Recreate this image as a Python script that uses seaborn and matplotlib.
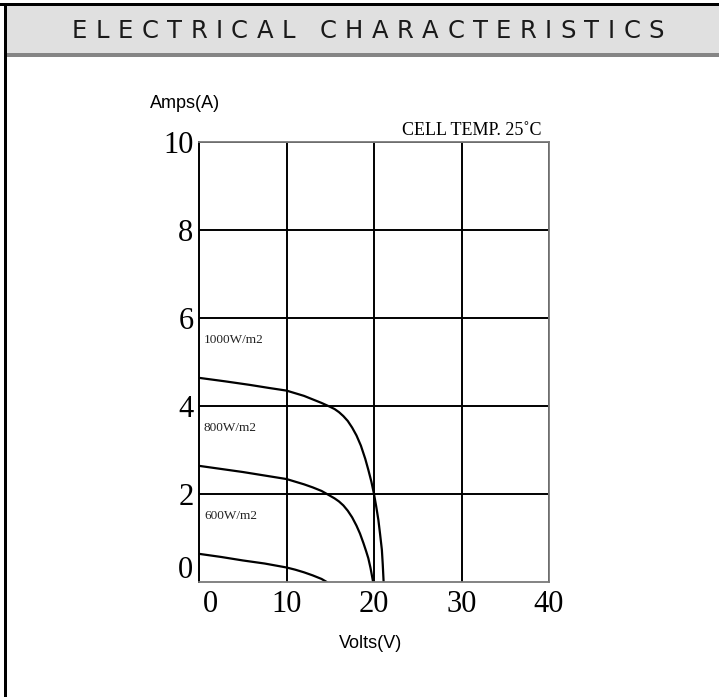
import matplotlib
matplotlib.use("Agg")
import matplotlib.pyplot as plt
import seaborn as sns
import pandas as pd
from matplotlib.patches import Rectangle
from matplotlib.font_manager import FontProperties, findfont, get_font

# I-V curves (volts, amps)
volts_1000 = [0, 3, 5.8, 8, 10, 11, 12, 13, 14, 15, 15.5, 16, 16.5, 17, 17.5, 18, 18.5,
              19, 19.35, 19.7, 20.0, 20.25, 20.5, 20.7, 20.9, 21.0, 21.1]
amps_1000 = [4.64, 4.56, 4.48, 4.41, 4.35, 4.29, 4.23, 4.15, 4.07, 3.98, 3.93, 3.86, 3.77,
             3.66, 3.51, 3.33, 3.1, 2.8, 2.55, 2.28, 2.0, 1.72, 1.41, 1.08, 0.73, 0.4, 0.0]

volts_800 = [0, 5, 10, 11, 12, 13, 14, 14.8, 15.5, 16, 16.5, 17, 17.5, 18, 18.4, 18.8,
             19.1, 19.35, 19.6, 19.9]
amps_800 = [2.64, 2.50, 2.34, 2.28, 2.22, 2.15, 2.07, 1.98, 1.9, 1.83, 1.74, 1.62, 1.47,
            1.28, 1.1, 0.88, 0.7, 0.54, 0.32, 0.0]

volts_600 = [0, 2.5, 5, 7.5, 10, 11, 12, 13, 14, 14.6]
amps_600 = [0.64, 0.57, 0.49, 0.42, 0.33, 0.28, 0.22, 0.15, 0.07, 0.0]

curve_names = ["1000W/m2", "800W/m2", "600W/m2"]
x_ticks = [10, 20, 30, 40]
y_ticks = [2, 4, 6, 8, 10]

df = pd.concat([
    pd.DataFrame({"volts": volts_1000, "amps": amps_1000, "curve": curve_names[0]}),
    pd.DataFrame({"volts": volts_800, "amps": amps_800, "curve": curve_names[1]}),
    pd.DataFrame({"volts": volts_600, "amps": amps_600, "curve": curve_names[2]}),
])

sns.set_theme(style="white")
W, H = 719, 697
fig = plt.figure(figsize=(W / 100, H / 100), dpi=100)

# page frame + header band
def fig_rect(x0, y0, w, h, color):
    fig.patches.append(Rectangle((x0 / W, 1 - (y0 + h) / H), w / W, h / H,
                                 transform=fig.transFigure, color=color, lw=0, zorder=0))

fig_rect(7, 6, W - 7, 47, "#e0e0e0")
fig_rect(7, 53, W - 7, 4, "#858585")
fig_rect(0, 3, W, 3, "black")
fig_rect(4, 3, 3, H - 3, "black")

# title with letter spacing
title = "ELECTRICAL CHARACTERISTICS"
tsize = 17.5
tprop = FontProperties(family="DejaVu Sans", size=tsize)
font = get_font(findfont(tprop))
font.set_size(tsize, 100)
adv = [font.load_char(ord(c)).linearHoriAdvance / 65536 for c in title]
x_start, x_end = 72, 664
track = (x_end - x_start - sum(adv)) / (len(title) - 1)
xpos = x_start
for c, a in zip(title, adv):
    if c != " ":
        fig.text(xpos / W, 1 - 31.5 / H, c, fontproperties=tprop, color="#1a1a1a",
                 ha="left", va="center")
    xpos += a + track

ax = fig.add_axes([199 / W, 1 - 582 / H, 350 / W, 440 / H])
sns.lineplot(data=df, x="volts", y="amps", hue="curve", units="curve", estimator=None,
             sort=False, palette={n: "black" for n in curve_names}, linewidth=1.6,
             legend=False, ax=ax)

ax.set_xlim(0, 40)
ax.set_ylim(0, 10)
ax.set_xticks(x_ticks)
ax.set_yticks(y_ticks)
# "0" labels sit a little off the origin in the original
ax.set_xticks([1.25], labels=["0"], minor=True)
ax.set_yticks([0.34], labels=["0"], minor=True)
ax.grid(True, which="major", color="black", linewidth=1.4)
ax.grid(False, which="minor")
ax.tick_params(axis="both", which="both", length=0, labelsize=22)
ax.tick_params(axis="y", which="both", pad=4)
ax.tick_params(axis="x", which="both", pad=6)
for lbl in ax.get_xticklabels(which="both") + ax.get_yticklabels(which="both"):
    lbl.set_family("Liberation Serif")
    lbl.set_color("black")

for side in ["top", "right", "bottom"]:
    ax.spines[side].set_color("#7a7a7a")
    ax.spines[side].set_linewidth(1.3)
ax.spines["left"].set_color("black")
ax.spines["left"].set_linewidth(1.4)

ax.set_xlabel("Volts(V)", family="Liberation Sans", fontsize=13, color="black", va="center")
ax.xaxis.set_label_coords((371 - 199) / 350, -(643 - 582) / 440)
ax.set_ylabel("")
fig.text(150 / W, 1 - 103 / H, "Amps(A)", family="Liberation Sans", fontsize=13,
         ha="left", va="center", color="black")

ax.text(39.2, 10.16, "CELL TEMP. 25\u02daC", family="Liberation Serif", fontsize=13,
        ha="right", va="baseline", clip_on=False, color="black")

for name, amp in zip(curve_names, [5.5, 3.5, 1.5]):
    ax.text(0.57, amp, name, family="Liberation Serif", fontsize=9.5,
            ha="left", va="center", color="#222222")

fig.savefig("out.png", dpi=100)
